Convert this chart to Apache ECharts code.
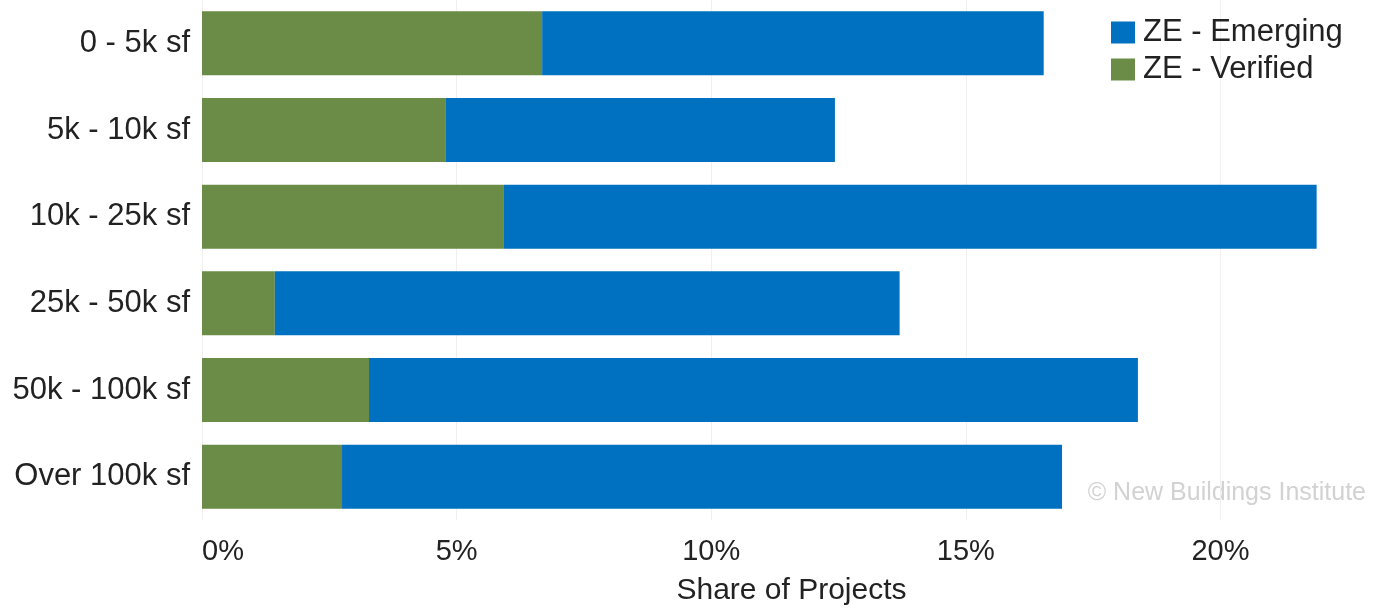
<!DOCTYPE html>
<html>
<head>
<meta charset="utf-8">
<script src="https://cdn.jsdelivr.net/npm/echarts@6/dist/echarts.min.js"></script>
<style>
  html, body { margin: 0; padding: 0; background: #fff; }
  #chart { width: 1378px; height: 613px; }
</style>
</head>
<body>
<div id="chart"></div>
<script>
const categories = ["0 - 5k sf", "5k - 10k sf", "10k - 25k sf", "25k - 50k sf", "50k - 100k sf", "Over 100k sf"];
const verified = [6.68, 4.79, 5.93, 1.43, 3.28, 2.75];
const emerging = [9.85, 7.64, 15.96, 12.27, 15.10, 14.14];
const xTicks = [0, 5, 10, 15, 20, 25];

const chart = echarts.init(document.getElementById("chart"));
chart.setOption({
  animation: false,
  textStyle: { fontFamily: "Liberation Sans, Arial, sans-serif" },
  grid: { left: 202, top: 0, height: 520, width: 1273, outerBoundsMode: "none", containLabel: false },
  legend: {
    orient: "vertical",
    left: 1106,
    top: 12,
    itemWidth: 24,
    itemHeight: 22,
    itemGap: 6,
    icon: "rect",
    data: ["ZE - Emerging", "ZE - Verified"],
    textStyle: { fontSize: 31, color: "#222", padding: [0, 0, 0, 3] },
  },
  xAxis: {
    type: "value",
    min: xTicks[0],
    max: xTicks[xTicks.length - 1],
    interval: 5,
    name: "Share of Projects",
    nameLocation: "middle",
    nameGap: 56,
    nameTextStyle: { fontSize: 30, color: "#222", padding: [0, 94, 0, 0] },
    axisLine: { show: false },
    axisTick: { show: false },
    axisLabel: {
      fontSize: 29,
      color: "#222",
      margin: 17,
      alignMinLabel: "left",
      formatter: (v) => v + "%",
    },
    splitLine: { show: true, lineStyle: { color: "#f0f0f0", width: 1 } },
  },
  yAxis: {
    type: "category",
    data: categories,
    inverse: true,
    axisLine: { show: false },
    axisTick: { show: false },
    axisLabel: { fontSize: 31, color: "#222", margin: 12 },
  },
  series: [
    {
      name: "ZE - Verified",
      type: "bar",
      stack: "total",
      barWidth: 64,
      itemStyle: { color: "#6B8C46" },
      data: verified,
    },
    {
      name: "ZE - Emerging",
      type: "bar",
      stack: "total",
      barWidth: 64,
      itemStyle: { color: "#0070C0" },
      data: emerging,
    },
  ],
  graphic: [
    {
      type: "text",
      right: 12,
      top: 481,
      style: {
        text: "© New Buildings Institute",
        fontSize: 25,
        fill: "#d2d2d2",
        fontFamily: "Liberation Sans, Arial, sans-serif",
      },
    },
  ],
});
window.addEventListener("resize", () => {
  chart.resize();
});
</script>
</body>
</html>
